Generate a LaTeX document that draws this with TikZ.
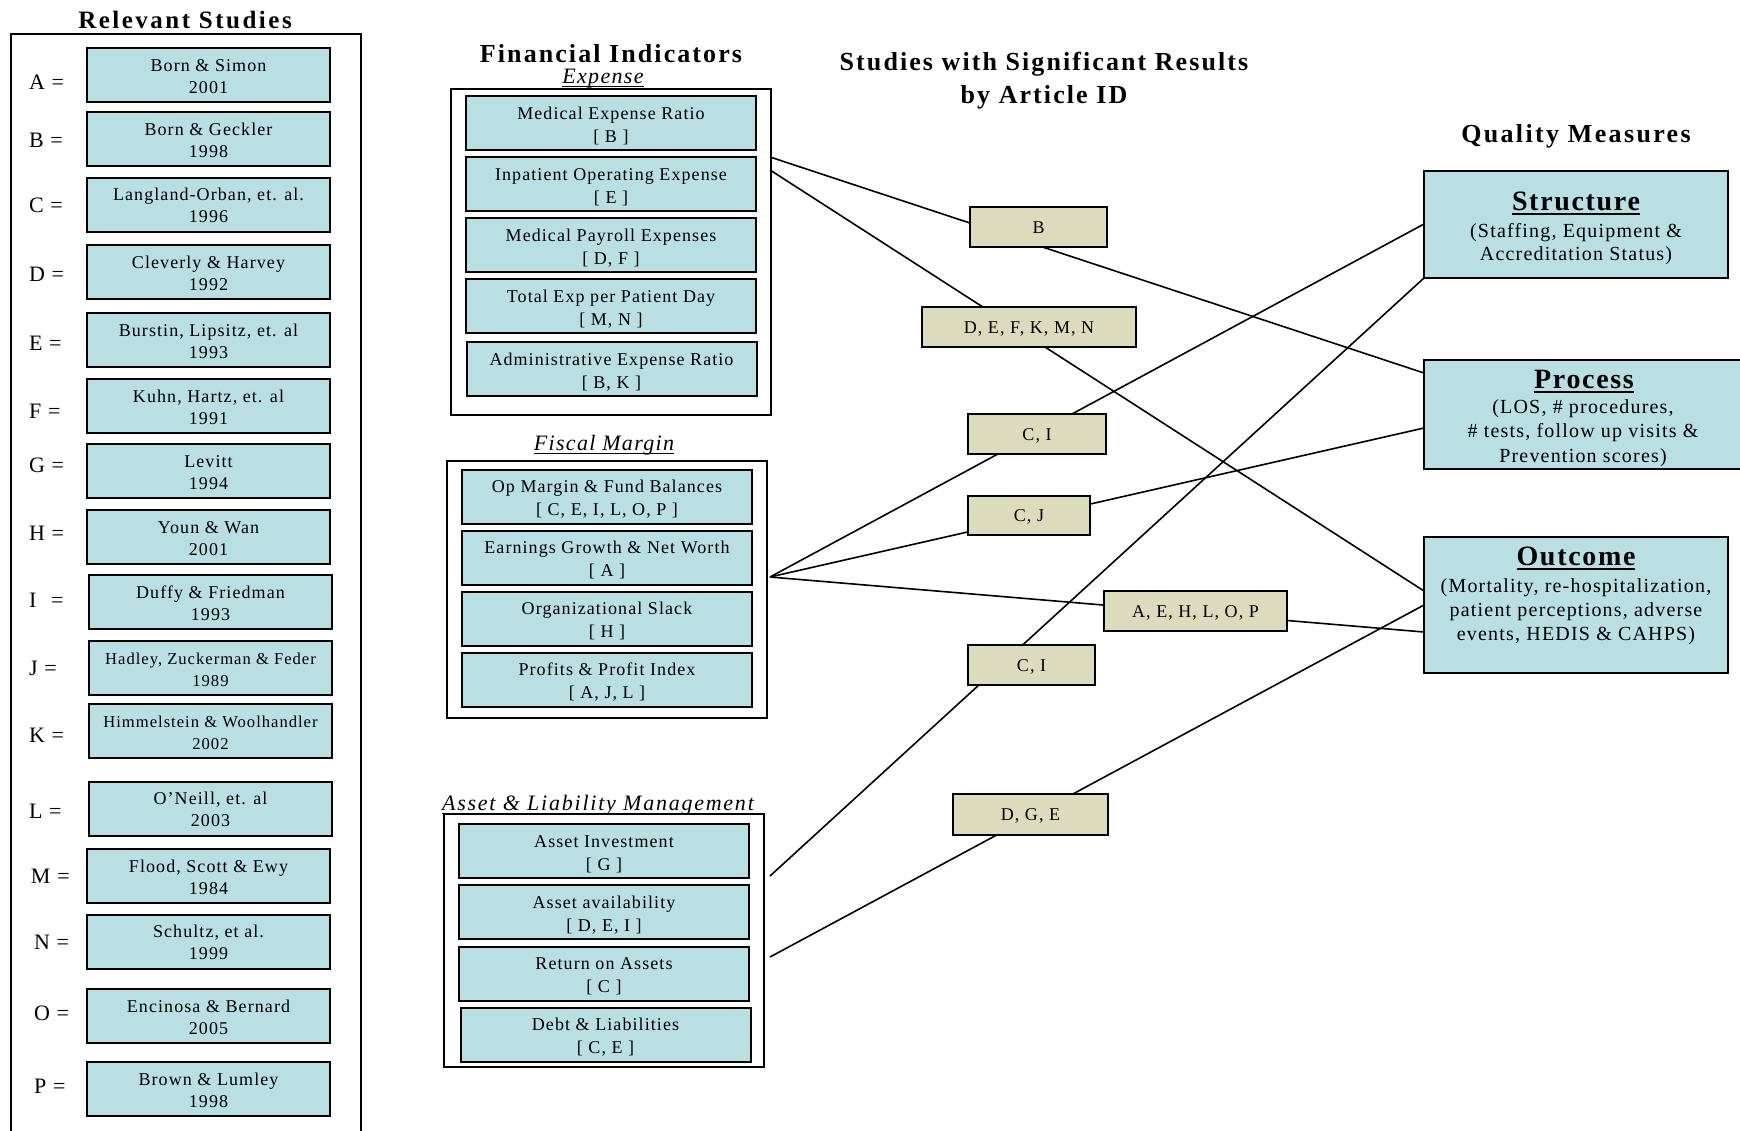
\documentclass[tikz,border=0pt]{standalone}
\usepackage{fontspec}
\setmainfont{Liberation Serif}[LetterSpace=6]
\definecolor{boxcyan}{RGB}{185,223,227}
\definecolor{boxtan}{RGB}{221,219,190}
\newcommand{\myul}[3]{\setbox0=\hbox{#3}\rlap{\rule[#2]{\wd0}{#1}}\box0}
\begin{document}
\begin{tikzpicture}[x=0.5pt,y=-0.5pt,
  every node/.style={inner sep=0pt,outer sep=0pt},
  study/.style={draw,line width=1pt,fill=boxcyan,align=center,font=\fontsize{9}{11}\selectfont,minimum width=121.5pt,minimum height=27pt,text height=18pt,text depth=0pt},
  fin/.style={draw,line width=1pt,fill=boxcyan,align=center,font=\fontsize{9}{11.5}\selectfont,minimum width=145pt,minimum height=27pt,text height=19pt,text depth=0pt},
  sig/.style={draw,line width=1pt,fill=boxtan,font=\fontsize{9}{11}\selectfont,minimum height=20pt,text height=6pt,text depth=0pt},
  lab/.style={anchor=west,font=\fontsize{11}{12}\selectfont},
  grp/.style={draw,line width=1pt},
  head/.style={anchor=base,font=\fontsize{13}{16.5}\selectfont\bfseries\addfontfeatures{LetterSpace=8},align=center},
  subhead/.style={anchor=base,font=\fontsize{11}{13}\selectfont\itshape},
  qbox/.style={draw,line width=1pt,fill=boxcyan},
  qtitle/.style={anchor=base,font=\fontsize{14}{16}\selectfont\bfseries\addfontfeatures{LetterSpace=6}},
  qtext/.style={anchor=base,font=\fontsize{10}{11.5}\selectfont,align=center},
  link/.style={line width=0.8pt}]
\useasboundingbox (0,0) rectangle (1740,1130);

% ---------- Relevant studies ----------
\node[head,font=\fontsize{12.5}{15}\selectfont\bfseries\addfontfeatures{LetterSpace=10}] (relT) at (185,28) {Relevant Studies};
\node[grp,minimum width=175pt,minimum height=550.5pt] (relG) at (186,584.5) {};

\node[study] (sA) at (208.5,75) {Born \& Simon\\2001};
\node[study] (sB) at (208.5,139) {Born \& Geckler\\1998};
\node[study] (sC) at (208.5,204.5) {Langland-Orban, et. al.\\1996};
\node[study] (sD) at (208.5,272) {Cleverly \& Harvey\\1992};
\node[study] (sE) at (208.5,340) {Burstin, Lipsitz, et. al\\1993};
\node[study] (sF) at (208.5,406) {Kuhn, Hartz, et. al\\1991};
\node[study] (sG) at (208.5,471) {Levitt\\1994};
\node[study] (sH) at (208.5,537) {Youn \& Wan\\2001};
\node[study] (sI) at (210.5,602) {Duffy \& Friedman\\1993};
\node[study,font=\fontsize{8.3}{11}\selectfont] (sJ) at (210.5,668) {Hadley, Zuckerman \& Feder\\1989};
\node[study,font=\fontsize{8.3}{11}\selectfont] (sK) at (210.5,731) {Himmelstein \& Woolhandler\\2002};
\node[study] (sL) at (210.5,808.5) {O'Neill, et. al\\2003};
\node[study] (sM) at (208.5,876) {Flood, Scott \& Ewy\\1984};
\node[study] (sN) at (208.5,941.5) {Schultz, et al.\\1999};
\node[study] (sO) at (208.5,1016) {Encinosa \& Bernard\\2005};
\node[study] (sP) at (208.5,1089) {Brown \& Lumley\\1998};

\node[lab] (lA) at (29,82) {A =};
\node[lab] (lB) at (29,140) {B =};
\node[lab] (lC) at (29,205) {C =};
\node[lab] (lD) at (29,274) {D =};
\node[lab] (lE) at (29,343) {E =};
\node[lab] (lF) at (29,411) {F =};
\node[lab] (lG) at (29,465) {G =};
\node[lab] (lH) at (29,533) {H =};
\node[lab] (lI) at (29,600) {I\hspace{4pt} =};
\node[lab] (lJ) at (29,668) {J =};
\node[lab] (lK) at (29,735) {K =};
\node[lab] (lL) at (29,811) {L =};
\node[lab] (lM) at (31,876) {M =};
\node[lab] (lN) at (34,942) {N =};
\node[lab] (lO) at (34,1013) {O =};
\node[lab] (lP) at (34,1086) {P =};

% ---------- Financial indicators ----------
\node[head] (finT) at (611,62) {Financial Indicators};
\node[subhead] (expT) at (603,83) {\myul{0.7pt}{-2pt}{Expense}};
\node[grp,minimum width=160pt,minimum height=163pt] (expG) at (611,252) {};
\node[fin] (f1) at (611,123) {Medical Expense Ratio\\{[} B ]};
\node[fin] (f2) at (611,184) {Inpatient Operating Expense\\{[} E ]};
\node[fin] (f3) at (611,245) {Medical Payroll Expenses\\{[} D, F ]};
\node[fin] (f4) at (611,306) {Total Exp per Patient Day\\{[} M, N ]};
\node[fin] (f5) at (611.5,369) {Administrative Expense Ratio\\{[} B, K ]};

\node[subhead] (fisT) at (604,450) {\myul{0.7pt}{-2pt}{Fiscal Margin}};
\node[grp,minimum width=160pt,minimum height=128.5pt] (fisG) at (607,589.5) {};
\node[fin] (g1) at (607,496.5) {Op Margin \& Fund Balances\\{[} C, E, I, L, O, P ]};
\node[fin] (g2) at (607,557.5) {Earnings Growth \& Net Worth\\{[} A ]};
\node[fin] (g3) at (607,618.5) {Organizational Slack\\{[} H ]};
\node[fin] (g4) at (607,679.5) {Profits \& Profit Index\\{[} A, J, L ]};

\node[subhead,font=\fontsize{11}{13}\selectfont\itshape\addfontfeatures{LetterSpace=8}] (astT) at (598,810) {\myul{0.7pt}{-2pt}{Asset \& Liability Management}};
\node[grp,minimum width=160pt,minimum height=126.5pt] (astG) at (604,940.5) {};
\node[fin] (h1) at (604,851) {Asset Investment\\{[} G ]};
\node[fin] (h2) at (604,912) {Asset availability\\{[} D, E, I ]};
\node[fin] (h3) at (604,973.5) {Return on Assets\\{[} C ]};
\node[fin] (h4) at (605.5,1034.5) {Debt \& Liabilities\\{[} C, E ]};

% ---------- Middle heading ----------
\node[head] (sigT) at (1044,103) {Studies with Significant Results\\by Article ID};

% ---------- Quality measures ----------
\node[head,font=\fontsize{13}{16}\selectfont\bfseries\addfontfeatures{LetterSpace=9}] (qT) at (1576,142) {Quality Measures};
\node[qbox,minimum width=152pt,minimum height=53.5pt] (qS) at (1576,224.5) {};
\node[qtitle] (qSt) at (1576,210) {\myul{1.3pt}{-2.7pt}{Structure}};
\node[qtext] (qSx) at (1576,260) {(Staffing, Equipment \&\\Accreditation Status)};
\node[qbox,minimum width=160.5pt,minimum height=54.5pt] (qP) at (1584.5,414.5) {};
\node[qtitle] (qPt) at (1584,388) {\myul{1.3pt}{-2.7pt}{Process}};
\node[qtext,font=\fontsize{10}{12.25}\selectfont] (qPx) at (1583,462) {(LOS, \# procedures,\\\# tests, follow up visits \&\\Prevention scores)};
\node[qbox,minimum width=152pt,minimum height=68pt] (qO) at (1576,605) {};
\node[qtitle] (qOt) at (1576,565) {\myul{1.3pt}{-2.7pt}{Outcome}};
\node[qtext,font=\fontsize{10}{12}\selectfont] (qOx) at (1576,640) {(Mortality, re-hospitalization,\\patient perceptions, adverse\\events, HEDIS \& CAHPS)};

% ---------- connector end points ----------
\coordinate (eA) at (770,157);
\coordinate (eB) at (770,170);
\coordinate (fm) at (770,577);
\coordinate (aA) at (770,876);
\coordinate (aB) at (770,957);
\coordinate (pI) at (1424,373);
\coordinate (pII) at (1424,428);
\coordinate (sI) at (1424,224);
\coordinate (sII) at (1424,278);
\coordinate (oI) at (1424,591);
\coordinate (oII) at (1424,605);
\coordinate (oIII) at (1424,632);

\draw[link] (eA) -- (pI);
\draw[link] (eB) -- (oI);
\draw[link] (fm) -- (sI);
\draw[link] (fm) -- (pII);
\draw[link] (fm) -- (oIII);
\draw[link] (aA) -- (sII);
\draw[link] (aB) -- (oII);

% ---------- significant-results boxes (drawn over the lines) ----------
\node[sig,minimum width=68.5pt] (mB) at (1038.5,227) {B};
\node[sig,minimum width=107pt] (mDEF) at (1029,327) {D, E, F, K, M, N};
\node[sig,minimum width=69pt] (mCI) at (1037,434) {C, I};
\node[sig,minimum width=61pt,minimum height=19.5pt] (mCJ) at (1029,515.5) {C, J};
\node[sig,minimum width=91.5pt] (mAEH) at (1195.5,611) {A, E, H, L, O, P};
\node[sig,minimum width=63.5pt] (mCI2) at (1031.5,665) {C, I};
\node[sig,minimum width=77.5pt,minimum height=20.5pt] (mDGE) at (1030.5,814.5) {D, G, E};
\end{tikzpicture}
\end{document}
